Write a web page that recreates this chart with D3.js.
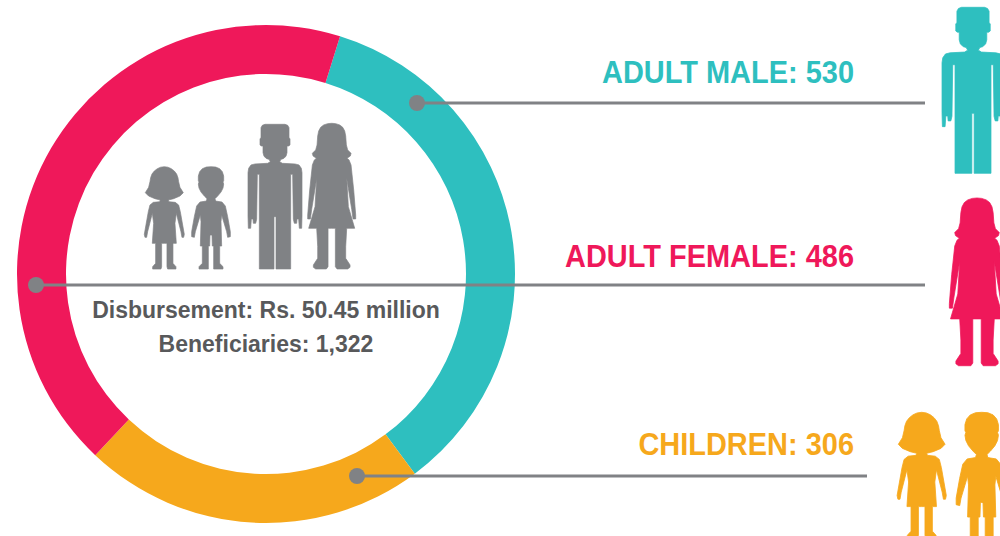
<!DOCTYPE html>
<html><head><meta charset="utf-8">
<script src="https://cdn.jsdelivr.net/npm/d3@7"></script>
<style>html,body{margin:0;padding:0;background:#fff;overflow:hidden}svg{display:block}
text{font-family:"Liberation Sans",Arial,sans-serif;font-weight:700}</style></head>
<body><svg id="c" width="1000" height="536"></svg>
<script>
const categories = ["ADULT MALE","ADULT FEMALE","CHILDREN"];
const counts = [530,486,306];
const arcSweep = [126,154,80];          // ring segments as drawn, degrees
const arcOrder = [0,2,1];               // clockwise order round the ring
const colors = ["#2ebfbf","#ef185a","#f6a81c"];
const centerLines = ["Disbursement: Rs. 50.45 million","Beneficiaries: 1,322"];

const halves = {
 man:[[0,0],[30,0],[38,3],[42,10],[42,41],[45,43],[45,62],[41,65],[36,65],[36,85],[33,96],[25,103],[18,105],[14,112],[22,117],[60,119],[72,122],[79,132],[81,145],[81,275],[80,312],[73,312],[71,284],[66,284],[65,297],[58,297],[55,285],[53,150],[47,150],[47,434],[3,434],[3,277],[0,277]],
 woman:[[0,0],[12,1],[24,5],[33,12],[39,23],[42,38],[44,65],[48,80],[58,90],[56,98],[46,105],[52,110],[58,125],[66,200],[72,275],[72,287],[64,287],[60,258],[45,165],[50,250],[69,315],[45,315],[42,370],[42,405],[55,425],[55,432],[48,437],[16,437],[11,430],[11,315],[0,315]],
 girl:[[0,0],[11,1.5],[21,6],[30,13],[37,22],[41,33],[43,45],[47,62],[57,78],[47,88],[28,96],[12,100],[14,105],[33,107],[43,115],[48,135],[60,203],[58,212],[53,212],[50,195],[36,140],[32,170],[36,230],[26,230],[26,290],[35,300],[35,307],[10,307],[8,300],[8,230],[0,230]],
 boy:[[0,0],[14,1],[26,6],[34,15],[38,28],[38,42],[36,46],[38,52],[36,64],[30,76],[20,88],[12,96],[14,103],[33,106],[43,118],[50,150],[58,195],[58,210],[50,212],[47,195],[32,145],[30,165],[32,238],[26,238],[26,290],[36,300],[36,307],[8,307],[8,238],[4,238],[3,205],[0,205]]
};
const people = [
 {k:"girl",x:164.3,y:166.7,s:1/3,c:"#808285"},{k:"boy",x:211,y:166.7,s:1/3,c:"#808285"},
 {k:"man",x:275,y:124.3,s:1/3,c:"#808285"},{k:"woman",x:331.7,y:123.3,s:1/3,c:"#808285"},
 {k:"man",x:973,y:7.3,s:.3825,c:colors[0]},{k:"woman",x:977,y:198,s:.3838,c:colors[1]},
 {k:"girl",x:921.7,y:412.3,s:.41,c:colors[2]},{k:"boy",x:981.7,y:412.3,s:.44,c:colors[2]}
];
const svg = d3.select("#c");
const cx=266, cy=274;
const pie = d3.pie().sort(null).value(i=>arcSweep[i]).startAngle(17.3*Math.PI/180).endAngle((360+17.3)*Math.PI/180);
const arc = d3.arc().innerRadius(200).outerRadius(249);
svg.append("g").attr("transform",`translate(${cx},${cy})`).selectAll("path").data(pie(arcOrder)).join("path")
  .attr("d",arc).attr("fill",d=>colors[d.data]);

const line = d3.line();
svg.append("g").selectAll("path").data(people).join("path")
  .attr("transform",d=>`translate(${d.x},${d.y}) scale(${d.s})`)
  .attr("d",d=>{const h=halves[d.k];return line(h.concat(h.slice().reverse().map(p=>[-p[0],p[1]])))+"Z";})
  .attr("fill",d=>d.c).attr("stroke",d=>d.c).attr("stroke-width",2).attr("stroke-linejoin","round");

const leaders=[{x1:417,x2:925,y:103},{x1:36,x2:925,y:285},{x1:357,x2:867,y:476}];
svg.append("g").selectAll("line").data(leaders).join("line")
  .attr("x1",d=>d.x1).attr("x2",d=>d.x2).attr("y1",d=>d.y).attr("y2",d=>d.y).attr("stroke","#808285").attr("stroke-width",3);
svg.append("g").selectAll("circle").data(leaders).join("circle")
  .attr("cx",d=>d.x1).attr("cy",d=>d.y).attr("r",8).attr("fill","#808285");

const labelY=[83,267,455];
svg.append("g").selectAll("text").data(categories).join("text")
  .attr("x",854).attr("y",(d,i)=>labelY[i]).attr("text-anchor","end").attr("font-size",31)
  .attr("fill",(d,i)=>colors[i]).text((d,i)=>`${d}: ${counts[i]}`)
  .each(function(){this.setAttribute("lengthAdjust","spacingAndGlyphs");this.setAttribute("textLength",this.getComputedTextLength()*0.934);});
svg.append("g").selectAll("text").data(centerLines).join("text")
  .attr("x",266).attr("y",(d,i)=>318+i*34).attr("text-anchor","middle").attr("font-size",23)
  .attr("fill","#58595b").text(d=>d);
</script></body></html>
